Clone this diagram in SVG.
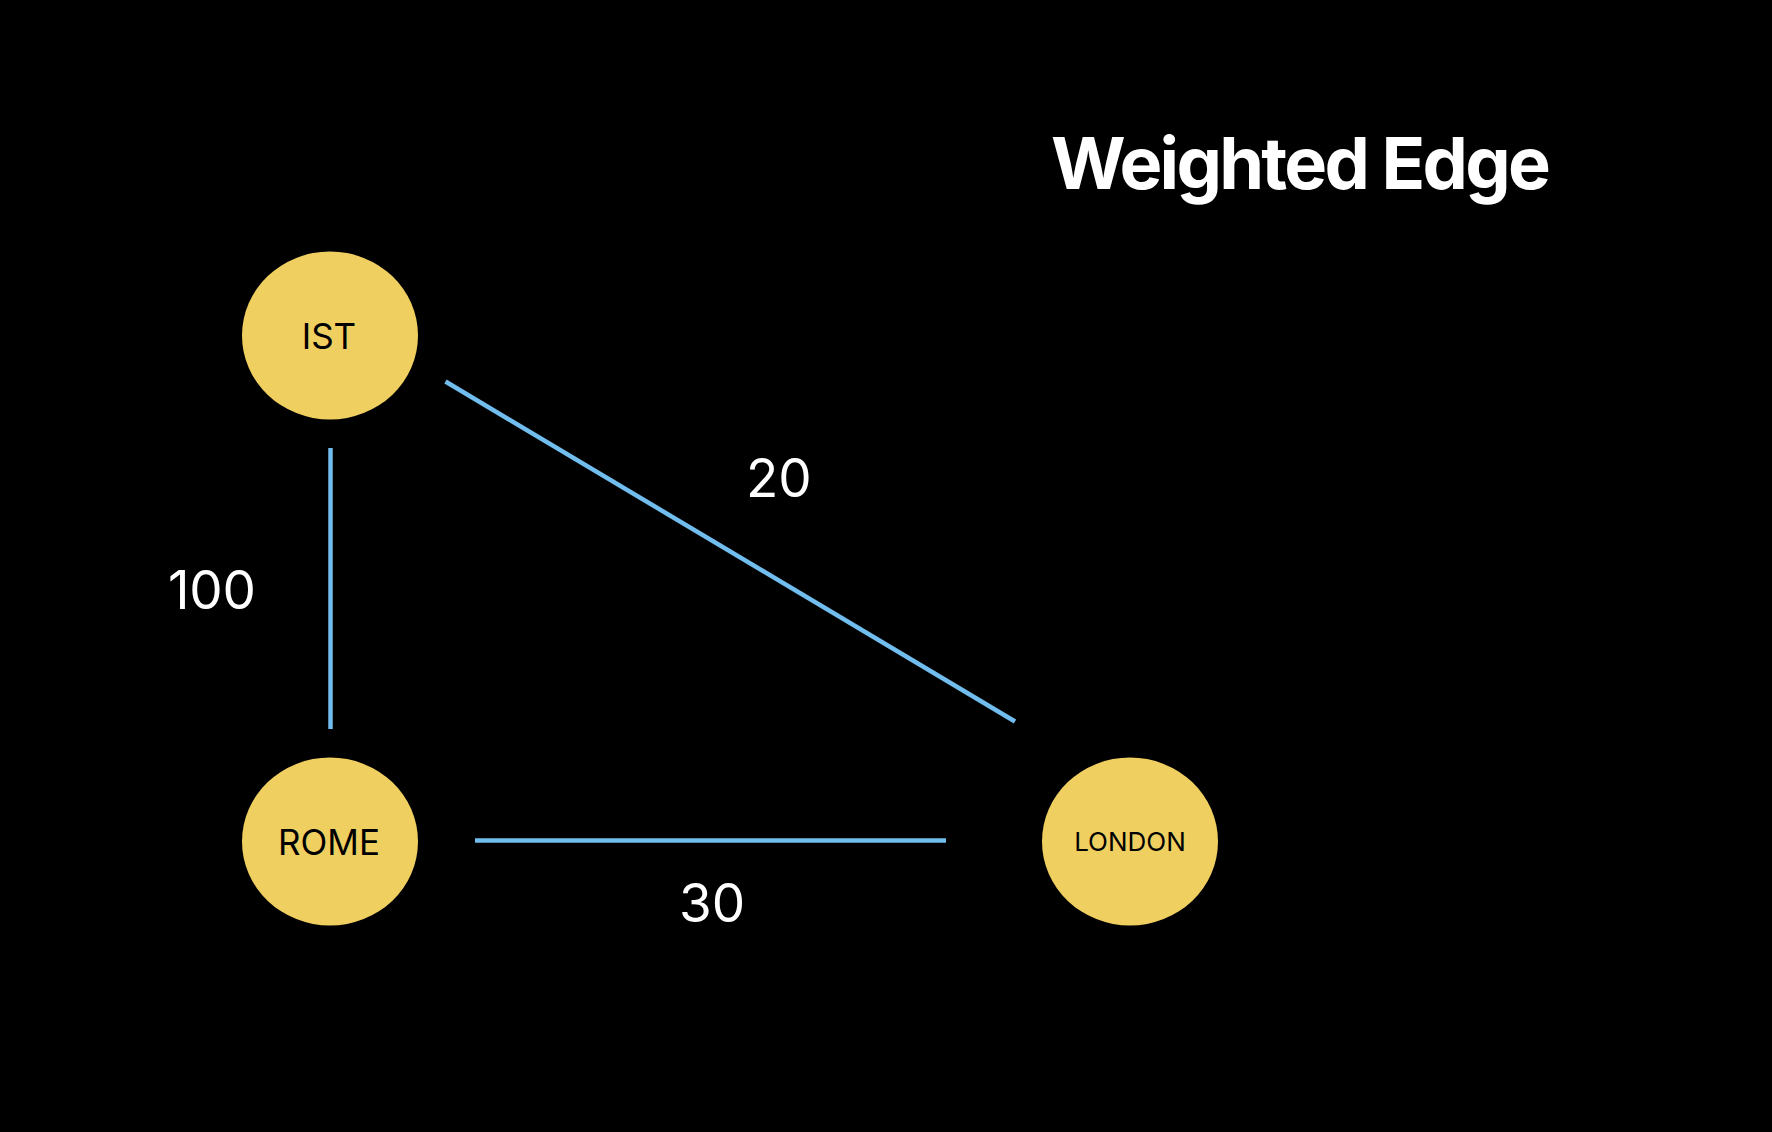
<svg xmlns="http://www.w3.org/2000/svg" width="1772" height="1132" viewBox="0 0 1772 1132">
<style>
.node{fill:#f0cf61;}
.nlabel{font-family:Inter,"Noto Sans","Liberation Sans",sans-serif;fill:#000;text-anchor:middle;}
.edge{stroke:#70bdee;stroke-width:4.5;fill:none;}
.wlabel{font-family:Inter,"Noto Sans","Liberation Sans",sans-serif;fill:#fff;font-size:53px;}
.title{font-family:Inter,"Noto Sans","Liberation Sans",sans-serif;fill:#fff;font-weight:700;font-size:72px;}
</style>
<rect x="0" y="0" width="1772" height="1132" fill="#000"/>
<text class="title" x="1051" y="189" textLength="500" lengthAdjust="spacing">Weighted Edge</text>
<g id="edges">
<line class="edge" x1="330.5" y1="448" x2="330.5" y2="729"/>
<line class="edge" x1="445.5" y1="381.5" x2="1015" y2="721.5"/>
<line class="edge" x1="475" y1="840.5" x2="946" y2="840.5"/>
<text class="wlabel" x="168" y="609" textLength="88" lengthAdjust="spacing">100</text>
<text class="wlabel" x="746" y="497">20</text>
<text class="wlabel" x="679" y="922">30</text>
</g>
<g id="node-ist">
<ellipse class="node" cx="330" cy="335.5" rx="88" ry="84"/>
<text class="nlabel" x="329" y="349" font-size="35">IST</text>
</g>
<g id="node-rome">
<ellipse class="node" cx="330" cy="841.5" rx="88" ry="84"/>
<text class="nlabel" x="329" y="855" font-size="35">ROME</text>
</g>
<g id="node-london">
<ellipse class="node" cx="1130" cy="841.5" rx="88" ry="84"/>
<text class="nlabel" x="1130" y="851" font-size="26">LONDON</text>
</g>
</svg>
